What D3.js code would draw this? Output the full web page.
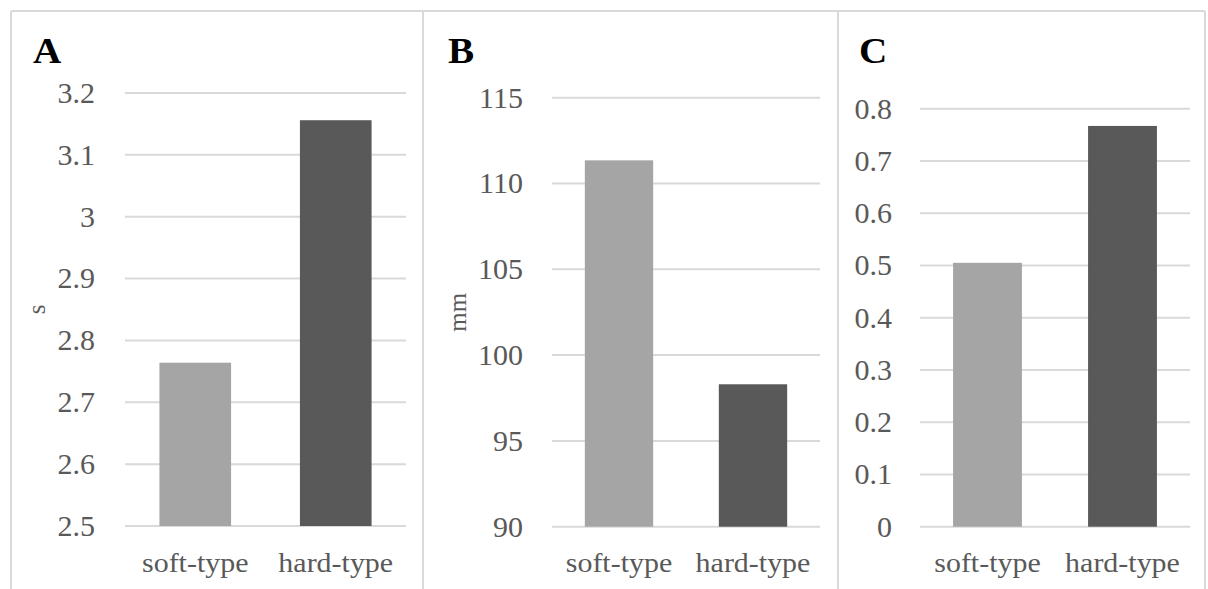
<!DOCTYPE html>
<html>
<head>
<meta charset="utf-8">
<script src="https://cdn.jsdelivr.net/npm/d3@7"></script>
<style>
  body { margin: 0; background: #fff; }
  text { font-family: "Liberation Serif", "Times New Roman", serif; }
</style>
</head>
<body>
<script>
// Data
var categories = ["soft-type", "hard-type"];

var valuesA = [2.764, 3.156];
var ticksA = [2.5, 2.6, 2.7, 2.8, 2.9, 3.0, 3.1, 3.2];

var valuesB = [111.35, 98.3];
var ticksB = [90, 95, 100, 105, 110, 115];

var valuesC = [0.505, 0.767];
var ticksC = [0, 0.1, 0.2, 0.3, 0.4, 0.5, 0.6, 0.7, 0.8];

var panelLetters = ["A", "B", "C"];
var axisTitles = ["s", "mm", ""];

var barColors = ["#a5a5a5", "#595959"];

// SVG area
var svgWidth = 1208;
var svgHeight = 589;

var svg = d3.select("body")
  .append("svg")
  .attr("width", svgWidth)
  .attr("height", svgHeight);

// outer frame with dividers
var frameColor = "#d9d9d9";
svg.append("line").attr("x1", 11).attr("x2", 1205).attr("y1", 11).attr("y2", 11)
  .attr("stroke", frameColor).attr("stroke-width", 2);
[11, 423, 838, 1205].forEach(function(x) {
  svg.append("line").attr("x1", x).attr("x2", x).attr("y1", 11).attr("y2", svgHeight)
    .attr("stroke", frameColor).attr("stroke-width", 2);
});

// layout for each panel (pixel boxes)
var panels = [
  { values: valuesA, ticks: ticksA, left: 125, right: 406, top: 93, bottom: 526, tickX: 95, letterX: 33, titleX: 45 },
  { values: valuesB, ticks: ticksB, left: 552, right: 820, top: 97.7, bottom: 526.7, tickX: 523, letterX: 448, titleX: 466 },
  { values: valuesC, ticks: ticksC, left: 920, right: 1190, top: 108.7, bottom: 526.7, tickX: 892, letterX: 859, titleX: 0 }
];

panels.forEach(function(p, i) {
  var g = svg.append("g");

  var x = d3.scaleBand()
    .domain(categories)
    .range([p.left, p.right])
    .paddingInner(0.49)
    .paddingOuter(0.245);

  var y = d3.scaleLinear()
    .domain(d3.extent(p.ticks))
    .range([p.bottom, p.top]);

  // gridlines
  g.selectAll("line.grid")
    .data(p.ticks)
    .enter()
    .append("line")
    .attr("class", "grid")
    .attr("x1", p.left)
    .attr("x2", p.right)
    .attr("y1", d => y(d))
    .attr("y2", d => y(d))
    .attr("stroke", "#d9d9d9")
    .attr("stroke-width", 2);

  // tick labels
  g.selectAll("text.tick")
    .data(p.ticks)
    .enter()
    .append("text")
    .attr("class", "tick")
    .attr("x", p.tickX)
    .attr("y", d => y(d))
    .attr("dy", "0.33em")
    .attr("text-anchor", "end")
    .attr("fill", "#595959")
    .style("font-size", "30px")
    .text(d => d);

  // bars
  g.selectAll("rect")
    .data(p.values)
    .enter()
    .append("rect")
    .attr("x", (d, j) => x(categories[j]))
    .attr("width", x.bandwidth())
    .attr("y", d => y(d))
    .attr("height", d => p.bottom - y(d))
    .attr("fill", (d, j) => barColors[j]);

  // category labels
  g.selectAll("g.cat")
    .data(categories)
    .enter()
    .append("g")
    .attr("class", "cat")
    .attr("transform", d => `translate(${x(d) + x.bandwidth() / 2}, 572) scale(1.07,1)`)
    .append("text")
    .attr("text-anchor", "middle")
    .attr("fill", "#595959")
    .style("font-size", "28px")
    .text(d => d);

  // panel letter
  svg.append("g")
    .attr("transform", `translate(${p.letterX}, 63) scale(1.12,1)`)
    .append("text")
    .style("font-size", "35px")
    .style("font-weight", "bold")
    .attr("fill", "#000")
    .text(panelLetters[i]);

  // axis title
  if (axisTitles[i]) {
    svg.append("text")
      .attr("transform", `translate(${p.titleX}, ${(p.top + p.bottom) / 2}) rotate(-90)`)
      .attr("text-anchor", "middle")
      .attr("fill", "#595959")
      .style("font-size", "25px")
      .text(axisTitles[i]);
  }
});
</script>
</body>
</html>
